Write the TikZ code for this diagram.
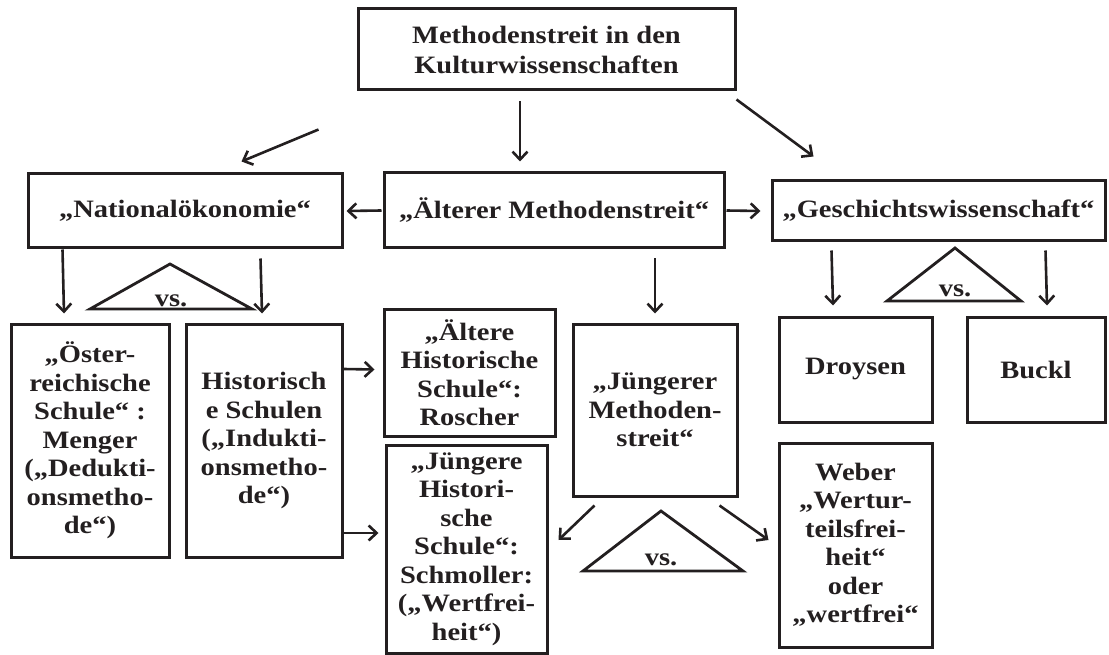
\documentclass[tikz,border=0pt]{standalone}
\usepackage{fontspec}
\setmainfont{Liberation Serif}[FakeStretch=1.14]
\usetikzlibrary{arrows.meta}
\definecolor{ink}{RGB}{35,31,32}
\begin{document}
\begin{tikzpicture}[x=1pt,y=-1pt,
  box/.style={draw=ink, line width=3pt, text=ink, font=\fontsize{25}{28.5}\selectfont\bfseries, align=center, inner sep=0pt},
  arr/.style={draw=ink, line width=2.6pt, -{Straight Barb[length=8pt,width=15pt,line width=2.6pt]}},
  tri/.style={draw=ink, line width=2.8pt, line join=miter},
  vstext/.style={text=ink, font=\fontsize{25}{28}\selectfont\bfseries, inner sep=0pt, anchor=base}]
\useasboundingbox (0,0) rectangle (1109,655);

% boxes
\node[box, minimum width=377pt, minimum height=81pt, font=\fontsize{25}{30}\selectfont\bfseries] (top) at (546.5,49.5) {Methodenstreit in den\\Kulturwissenschaften};
\node[box, minimum width=314pt, minimum height=74pt] (nat) at (185,211) {„Nationalökonomie“};
\node[box, minimum width=340pt, minimum height=75pt] (alt) at (554,210.5) {„Älterer Methodenstreit“};
\node[box, minimum width=333pt, minimum height=60pt] (ges) at (938.5,211) {„Geschichtswissenschaft“};

\node[box, minimum width=158pt, minimum height=233pt] (ost) at (90,440.5) {„Öster-\\reichische\\Schule“ :\\Menger\\(„Dedukti-\\onsmetho-\\de“)};
\node[box, minimum width=156pt, minimum height=233pt] (his) at (264,440.5) {Historisch\\e Schulen\\(„Indukti-\\onsmetho-\\de“)};
\node[box, minimum width=171pt, minimum height=127pt] (ah) at (469.5,372.5) {„Ältere\\Historische\\Schule“:\\Roscher};
\node[box, minimum width=161pt, minimum height=208pt] (jh) at (466.5,549) {„Jüngere\\Histori-\\sche\\Schule“:\\Schmoller:\\(„Wertfrei-\\heit“)};
\node[box, minimum width=164pt, minimum height=172pt] (jm) at (655,410) {„Jüngerer\\Methoden-\\streit“};
\node[box, minimum width=153pt, minimum height=105pt] (dro) at (855.5,369.5) {Droysen};
\node[box, minimum width=138pt, minimum height=105pt] (buc) at (1036,369.5) {Buckl};
\node[box, minimum width=153pt, minimum height=204pt] (web) at (855.5,545) {Weber\\„Wertur-\\teilsfrei-\\heit“\\oder\\„wertfrei“};

% arrows
\draw[arr] ([shift={(-38,38)}]top.south west) -- ([shift={(215,-11)}]nat.north west);
\draw[arr] ([shift={(-26.5,10)}]top.south) -- ([shift={(-34,-10)}]alt.north);
\draw[arr] ([shift={(0,8)}]top.south east) -- ([shift={(43,-23)}]ges.north west);
\draw[arr] ([shift={(-1,0)}]alt.west) -- ([shift={(3,0)}]nat.east);
\draw[arr] ([shift={(1,0)}]alt.east) -- ([shift={(-10,0)}]ges.west);
\draw[arr] ([shift={(36,0)}]nat.south west) -- ([shift={(-26,-9)}]ost.north);
\draw[arr] ([shift={(234,9)}]nat.south west) -- ([shift={(-2,-9)}]his.north);
\draw[arr] ([shift={(101,9)}]alt.south) -- ([shift={(0,-9)}]jm.north);
\draw[arr] ([shift={(61,8)}]ges.south west) -- ([shift={(-22.5,-10)}]dro.north);
\draw[arr] ([shift={(275,8)}]ges.south west) -- ([shift={(11,-10)}]buc.north);
\draw[arr] ([shift={(0,-71.5)}]his.east) -- ([shift={(-8,-3)}]ah.west);
\draw[arr] ([shift={(0,92.5)}]his.east) -- ([shift={(-6,-16)}]jh.west);
\draw[arr] ([shift={(23,8)}]jm.south west) -- ([shift={(10,-9)}]jh.east);
\draw[arr] ([shift={(-19,8)}]jm.south east) -- ([shift={(-9,-5)}]web.west);

% vs. triangles
\draw[tri] (170,264) -- (252,309) -- (90,309) -- cycle;
\node[vstext] (vs1) at (171,306) {vs.};
\draw[tri] (955,248) -- (1021,301) -- (887,301) -- cycle;
\node[vstext] (vs2) at (955,297) {vs.};
\draw[tri] (661,511) -- (743,571) -- (583,571) -- cycle;
\node[vstext] (vs3) at (661,565) {vs.};
\end{tikzpicture}
\end{document}
